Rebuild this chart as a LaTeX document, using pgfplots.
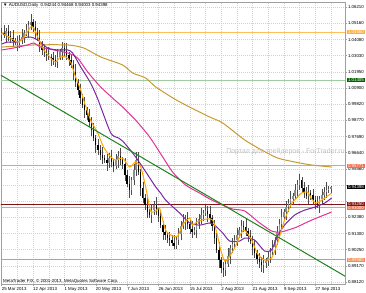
\documentclass[border=0pt]{standalone}
\usepackage{pgfplots}
\pgfplotsset{compat=1.18}
\usepackage{pgfplotstable}
\usepackage{fontspec}
\setmainfont{Liberation Sans}

\definecolor{maGold}{RGB}{200,155,50}
\definecolor{maOrange}{RGB}{255,165,0}
\definecolor{maPurple}{RGB}{120,40,160}
\definecolor{maPink}{RGB}{225,50,150}
\definecolor{trendGreen}{RGB}{30,130,30}
\definecolor{hlOrangeTop}{RGB}{255,190,90}
\definecolor{boxOrangeTop}{RGB}{255,175,60}
\definecolor{hlGreen}{RGB}{160,205,160}
\definecolor{boxGreen}{RGB}{0,100,0}
\definecolor{hlSalmon}{RGB}{250,150,120}
\definecolor{boxSalmon}{RGB}{245,110,70}
\definecolor{hlDarkRed}{RGB}{128,20,20}
\definecolor{hlOrangeBot}{RGB}{245,140,80}

\pgfplotstableread{
i o h l c
0 1.0440 1.0482 1.0400 1.0452
1 1.0452 1.0502 1.0418 1.0438
2 1.0438 1.0485 1.0388 1.0465
3 1.0465 1.0505 1.0402 1.0432
4 1.0432 1.0462 1.0389 1.0419
5 1.0419 1.0469 1.0359 1.0399
6 1.0399 1.0419 1.0372 1.0392
7 1.0392 1.0432 1.0336 1.0386
8 1.0386 1.0436 1.0356 1.0406
9 1.0406 1.0475 1.0376 1.0425
10 1.0425 1.0472 1.0385 1.0452
11 1.0452 1.0511 1.0432 1.0471
12 1.0471 1.0534 1.0421 1.0504
13 1.0504 1.0574 1.0474 1.0524
14 1.0524 1.0546 1.0461 1.0491
15 1.0491 1.0531 1.0412 1.0452
16 1.0452 1.0482 1.0399 1.0419
17 1.0419 1.0469 1.0329 1.0379
18 1.0379 1.0399 1.0310 1.0340
19 1.0340 1.0380 1.0296 1.0326
20 1.0326 1.0356 1.0267 1.0307
21 1.0307 1.0357 1.0274 1.0294
22 1.0294 1.0314 1.0237 1.0287
23 1.0287 1.0327 1.0244 1.0274
24 1.0274 1.0304 1.0231 1.0261
25 1.0261 1.0344 1.0221 1.0294
26 1.0294 1.0346 1.0274 1.0326
27 1.0326 1.0393 1.0276 1.0353
28 1.0353 1.0383 1.0303 1.0333
29 1.0333 1.0383 1.0277 1.0307
30 1.0307 1.0327 1.0234 1.0274
31 1.0274 1.0314 1.0221 1.0241
32 1.0241 1.0271 1.0145 1.0195
33 1.0195 1.0245 1.0099 1.0129
34 1.0129 1.0149 1.0046 1.0076
35 1.0076 1.0116 0.9983 1.0023
36 1.0023 1.0053 0.9957 0.9977
37 0.9977 1.0027 0.9894 0.9944
38 0.9944 0.9964 0.9881 0.9911
39 0.9911 0.9951 0.9835 0.9865
40 0.9865 0.9895 0.9772 0.9812
41 0.9812 0.9862 0.9740 0.9760
42 0.9760 0.9780 0.9664 0.9714
43 0.9714 0.9754 0.9651 0.9681
44 0.9681 0.9711 0.9618 0.9648
45 0.9648 0.9698 0.9588 0.9628
46 0.9628 0.9648 0.9595 0.9615
47 0.9615 0.9655 0.9545 0.9595
48 0.9595 0.9658 0.9565 0.9628
49 0.9628 0.9678 0.9572 0.9602
50 0.9602 0.9622 0.9535 0.9575
51 0.9575 0.9655 0.9555 0.9615
52 0.9615 0.9671 0.9565 0.9641
53 0.9641 0.9691 0.9585 0.9615
54 0.9615 0.9635 0.9558 0.9588
55 0.9588 0.9628 0.9476 0.9516
56 0.9516 0.9546 0.9437 0.9457
57 0.9457 0.9507 0.9367 0.9417
58 0.9417 0.9505 0.9387 0.9483
59 0.9483 0.9589 0.9453 0.9549
60 0.9549 0.9665 0.9509 0.9615
61 0.9615 0.9665 0.9516 0.9536
62 0.9536 0.9556 0.9380 0.9430
63 0.9430 0.9470 0.9334 0.9364
64 0.9364 0.9394 0.9288 0.9318
65 0.9318 0.9368 0.9232 0.9272
66 0.9272 0.9292 0.9232 0.9252
67 0.9252 0.9325 0.9202 0.9285
68 0.9285 0.9348 0.9255 0.9318
69 0.9318 0.9368 0.9255 0.9285
70 0.9285 0.9305 0.9206 0.9246
71 0.9246 0.9286 0.9166 0.9186
72 0.9186 0.9216 0.9090 0.9140
73 0.9140 0.9190 0.9090 0.9120
74 0.9120 0.9140 0.9071 0.9101
75 0.9101 0.9141 0.9048 0.9088
76 0.9088 0.9118 0.9048 0.9068
77 0.9068 0.9118 0.9028 0.9048
78 0.9048 0.9110 0.9030 0.9088
79 0.9088 0.9167 0.9058 0.9127
80 0.9127 0.9210 0.9087 0.9180
81 0.9180 0.9256 0.9160 0.9206
82 0.9206 0.9255 0.9156 0.9233
83 0.9233 0.9273 0.9163 0.9193
84 0.9193 0.9223 0.9130 0.9160
85 0.9160 0.9210 0.9100 0.9140
86 0.9140 0.9175 0.9120 0.9153
87 0.9153 0.9233 0.9103 0.9193
88 0.9193 0.9256 0.9163 0.9226
89 0.9226 0.9302 0.9196 0.9252
90 0.9252 0.9287 0.9212 0.9265
91 0.9265 0.9319 0.9245 0.9279
92 0.9279 0.9309 0.9209 0.9259
93 0.9259 0.9309 0.9203 0.9233
94 0.9233 0.9255 0.9150 0.9180
95 0.9180 0.9220 0.9061 0.9101
96 0.9101 0.9131 0.9002 0.9022
97 0.9022 0.9072 0.8906 0.8956
98 0.8956 0.8976 0.8873 0.8903
99 0.8903 0.8943 0.8847 0.8890
100 0.8890 0.8959 0.8850 0.8929
101 0.8929 0.9032 0.8909 0.8982
102 0.8982 0.9057 0.8932 0.9035
103 0.9035 0.9101 0.9005 0.9061
104 0.9061 0.9118 0.9031 0.9088
105 0.9088 0.9170 0.9048 0.9120
106 0.9120 0.9175 0.9100 0.9153
107 0.9153 0.9220 0.9103 0.9180
108 0.9180 0.9210 0.9143 0.9173
109 0.9173 0.9223 0.9117 0.9147
110 0.9147 0.9167 0.9074 0.9114
111 0.9114 0.9154 0.9061 0.9081
112 0.9081 0.9111 0.8991 0.9041
113 0.9041 0.9091 0.8972 0.9002
114 0.9002 0.9022 0.8932 0.8962
115 0.8962 0.9002 0.8903 0.8943
116 0.8943 0.8973 0.8880 0.8923
117 0.8923 0.8986 0.8873 0.8936
118 0.8936 0.8971 0.8906 0.8949
119 0.8949 0.9016 0.8919 0.8976
120 0.8976 0.9038 0.8936 0.9008
121 0.9008 0.9091 0.8988 0.9041
122 0.9041 0.9110 0.8991 0.9088
123 0.9088 0.9180 0.9058 0.9140
124 0.9140 0.9223 0.9110 0.9193
125 0.9193 0.9289 0.9153 0.9239
126 0.9239 0.9294 0.9219 0.9272
127 0.9272 0.9345 0.9222 0.9305
128 0.9305 0.9361 0.9275 0.9331
129 0.9331 0.9408 0.9301 0.9358
130 0.9358 0.9400 0.9318 0.9378
131 0.9378 0.9457 0.9358 0.9417
132 0.9417 0.9480 0.9367 0.9450
133 0.9450 0.9520 0.9420 0.9483
134 0.9483 0.9505 0.9400 0.9430
135 0.9430 0.9470 0.9364 0.9404
136 0.9404 0.9434 0.9358 0.9378
137 0.9378 0.9447 0.9328 0.9397
138 0.9397 0.9419 0.9354 0.9384
139 0.9384 0.9424 0.9321 0.9351
140 0.9351 0.9381 0.9291 0.9331
141 0.9331 0.9381 0.9298 0.9318
142 0.9318 0.9380 0.9268 0.9358
143 0.9358 0.9424 0.9328 0.9384
144 0.9384 0.9434 0.9354 0.9404
145 0.9404 0.9467 0.9364 0.9417
146 0.9417 0.9446 0.9397 0.9424
147 0.94244 0.94468 0.94003 0.94398
}\candles

\pgfplotstableread{
i v
0 1.0359
14.3 1.0373
29.5 1.0373
36.6 1.0353
44.2 1.0294
54 1.0241
58.5 1.0188
64.3 1.0155
68.8 1.0096
77.2 1.0017
83.9 0.9964
92.9 0.9898
98.7 0.9859
108.5 0.9747
116.1 0.9681
123.2 0.9628
130.8 0.9602
138.4 0.9582
147.3 0.9569
}\maGoldT

\pgfplotstableread{
i v
0 1.0340
5.4 1.0353
11.6 1.0373
14.3 1.0386
17.4 1.0359
23.2 1.0340
29.5 1.0320
33.9 1.0287
38.4 1.0195
44.2 1.0096
50 1.0017
54 0.9964
59.8 0.9878
66.1 0.9766
71.9 0.9635
76.3 0.9536
82.1 0.9450
88.4 0.9397
92.9 0.9358
98.7 0.9318
103.1 0.9292
108.5 0.9279
114.7 0.9206
120.5 0.9147
124.6 0.9140
127.7 0.9153
131.7 0.9173
138.4 0.9219
147.3 0.9272
}\maPinkT

\pgfplotstableread{
i v
0 1.0379
2.7 1.0392
7.1 1.0392
9.8 1.0419
12.9 1.0425
16.1 1.0406
20.5 1.0353
25 1.0340
29.5 1.0340
31.7 1.0320
35.3 1.0228
39.7 1.0122
42.9 1.0017
48.7 0.9793
52.2 0.9760
54 0.9740
58.5 0.9661
62.9 0.9569
68.8 0.9437
71 0.9397
73.2 0.9351
79.5 0.9265
83.9 0.9200
88.4 0.9186
92.9 0.9200
95.5 0.9180
98.7 0.9134
101.8 0.9081
106.3 0.9081
108.5 0.9101
112.9 0.9088
117.4 0.9015
120.5 0.9022
123.2 0.9114
126.3 0.9186
130.8 0.9252
135.3 0.9285
138.4 0.9298
141.1 0.9312
144.2 0.9331
147.3 0.9364
}\maPurpleT

\pgfplotstableread{
i v
0 1.0452
4 1.0419
7.1 1.0392
9.8 1.0419
12.9 1.0491
14.3 1.0485
16.1 1.0425
18.8 1.0340
21.9 1.0287
24.1 1.0261
26.3 1.0294
28.6 1.0294
30.8 1.0261
33 1.0162
35.3 1.0076
36.6 1.0010
39.7 0.9878
42.9 0.9793
45.5 0.9700
48.7 0.9635
50.9 0.9615
54 0.9628
57.1 0.9569
59.8 0.9602
62.1 0.9569
64.3 0.9437
66.5 0.9279
68.8 0.9279
70.5 0.9298
73.2 0.9153
76.3 0.9114
78.6 0.9114
80.8 0.9186
83.9 0.9233
85.3 0.9186
87.1 0.9206
91.1 0.9226
94.2 0.9219
96 0.9140
97.8 0.9022
99.6 0.8949
101.3 0.8969
104 0.9035
106.7 0.9127
108.5 0.9153
111.6 0.9088
114.3 0.8995
117.4 0.8956
120.5 0.8969
123.2 0.9068
126.3 0.9219
129.5 0.9331
130.8 0.9351
133.9 0.9397
136.6 0.9404
138.4 0.9358
140.6 0.9331
144.2 0.9364
147.3 0.9397
}\maOrangeT

\begin{document}
\begin{tikzpicture}
\useasboundingbox (-1bp,-9bp) rectangle (365bp,284bp);
\begin{axis}[
  at={(0,0)}, anchor=south west,
  scale only axis, width=344bp, height=282bp,
  xmin=-0.3, xmax=153.3, ymin=0.8798, ymax=1.0656,
  axis line style={gray!75, line width=0.6bp},
  xtick={0,14,...,140},
  xticklabels={25 Mar 2013,12 Apr 2013,1 May 2013,20 May 2013,7 Jun 2013,26 Jun 2013,15 Jul 2013,2 Aug 2013,21 Aug 2013,9 Sep 2013,27 Sep 2013},
  minor xtick={7,21,...,147},
  ytick={1.0621,1.0516,1.0408,1.0303,1.0195,1.0090,0.9982,0.9877,0.9769,0.9664,0.9556,0.9451,0.9343,0.9238,0.9130,0.9025,0.8917,0.8812},
  yticklabels={1.06210,1.05160,1.04080,1.03030,1.01950,1.00900,0.99820,0.98770,0.97690,0.96640,0.95560,{},{},0.92380,0.91300,0.90250,0.89170,0.88120},
  xtick pos=bottom, ytick pos=right,
  yticklabel pos=right,
  tick align=outside, major tick length=2bp, minor tick length=0pt,
  tick style={gray!75, line width=0.4bp},
  xticklabel style={anchor=north west, inner xsep=0pt, inner ysep=0.8bp, font=\fontsize{4.4}{5}\selectfont},
  yticklabel style={anchor=west, inner xsep=0.8bp, font=\fontsize{4.4}{5}\selectfont},
  grid=both,
  major grid style={gray!35, dash pattern=on 1bp off 1bp, line width=0.4bp},
  minor grid style={gray!35, dash pattern=on 1bp off 1bp, line width=0.4bp},
]
% horizontal levels
\addplot[hlOrangeTop, line width=0.9bp] coordinates {(-1,1.0456) (155,1.0456)};
\addplot[hlGreen, line width=0.9bp] coordinates {(-1,1.0140) (155,1.0140)};
\addplot[hlSalmon, line width=0.9bp] coordinates {(-1,0.95771) (155,0.95771)};
\addplot[hlDarkRed, line width=0.9bp] coordinates {(-1,0.9325) (155,0.9325)};
\addplot[hlSalmon, line width=0.9bp] coordinates {(-1,0.9300) (155,0.9300)};
\addplot[hlOrangeBot, line width=0.9bp] coordinates {(-1,0.89585) (155,0.89585)};
% candle wicks
\addplot[draw=none, mark=none,
  error bars/.cd, y dir=plus, y explicit,
  error bar style={draw=black!70, line width=0.5bp}, error mark=none]
  table[x=i, y=l, y error expr={\thisrow{h}-\thisrow{l}}] {\candles};
% bullish bodies
\addplot[draw=none, mark=none,
  restrict expr to domain={\thisrow{c}-\thisrow{o}}{0:1},
  error bars/.cd, y dir=plus, y explicit,
  error bar style={draw=black!45, line width=1.4bp}, error mark=none]
  table[x=i, y=o, y error expr={\thisrow{c}-\thisrow{o}}] {\candles};
% bearish bodies
\addplot[draw=none, mark=none,
  restrict expr to domain={\thisrow{o}-\thisrow{c}}{0:1},
  error bars/.cd, y dir=plus, y explicit,
  error bar style={draw=black, line width=1.4bp}, error mark=none]
  table[x=i, y=c, y error expr={\thisrow{o}-\thisrow{c}}] {\candles};
% moving averages
\addplot[maGold, line width=1bp, smooth, tension=0.4] table[x=i, y=v] {\maGoldT};
\addplot[maPink, line width=1bp, smooth, tension=0.4] table[x=i, y=v] {\maPinkT};
\addplot[maPurple, line width=1bp, smooth, tension=0.4] table[x=i, y=v] {\maPurpleT};
\addplot[maOrange, line width=1bp, smooth, tension=0.4] table[x=i, y=v] {\maOrangeT};
% trend line
\addplot[trendGreen, line width=1bp] coordinates {(-0.5,1.0175) (153.5,0.8848)};
\coordinate (lTop) at (axis cs:153.3,1.0456);
\coordinate (lGreen) at (axis cs:153.3,1.0140);
\coordinate (lSal) at (axis cs:153.3,0.95771);
\coordinate (lCur) at (axis cs:153.3,0.94398);
\coordinate (lDR) at (axis cs:153.3,0.9325);
\coordinate (lSal2) at (axis cs:153.3,0.9300);
\coordinate (lBot) at (axis cs:153.3,0.89585);
\end{axis}
\tikzset{pl/.style={anchor=west, inner xsep=0.8bp, inner ysep=0.5bp, xshift=2bp, text=white, font=\fontsize{4.4}{5}\selectfont}}
\node[pl, fill=boxOrangeTop] at (lTop) {1.04560};
\node[pl, fill=boxGreen] at (lGreen) {1.01405};
\node[pl, fill=boxSalmon] at (lSal) {0.95771};
\node[pl, fill=black] at (lCur) {0.94398};
\node[pl, fill=hlDarkRed] at (lDR) {0.93250};
\node[pl, fill=boxSalmon] at (lSal2) {0.93000};
\node[pl, fill=hlOrangeBot] at (lBot) {0.89585};
\node[anchor=west, inner sep=0pt, font=\fontsize{4.4}{5}\selectfont] at (2bp,279bp) {▼ AUDUSD,Daily\ \ 0.94244 0.94468 0.94003 0.94398};
\node[anchor=west, inner sep=0pt, font=\fontsize{4.4}{5}\selectfont] at (2bp,3bp) {MetaTrader FIX, © 2001-2013, MetaQuotes Software Corp.};
\node[text=gray!50, inner sep=0pt, font=\fontsize{7}{8}\selectfont] at (284.5bp,132bp) {Портал для трейдеров - ForTrader.ru};
\end{tikzpicture}
\end{document}
